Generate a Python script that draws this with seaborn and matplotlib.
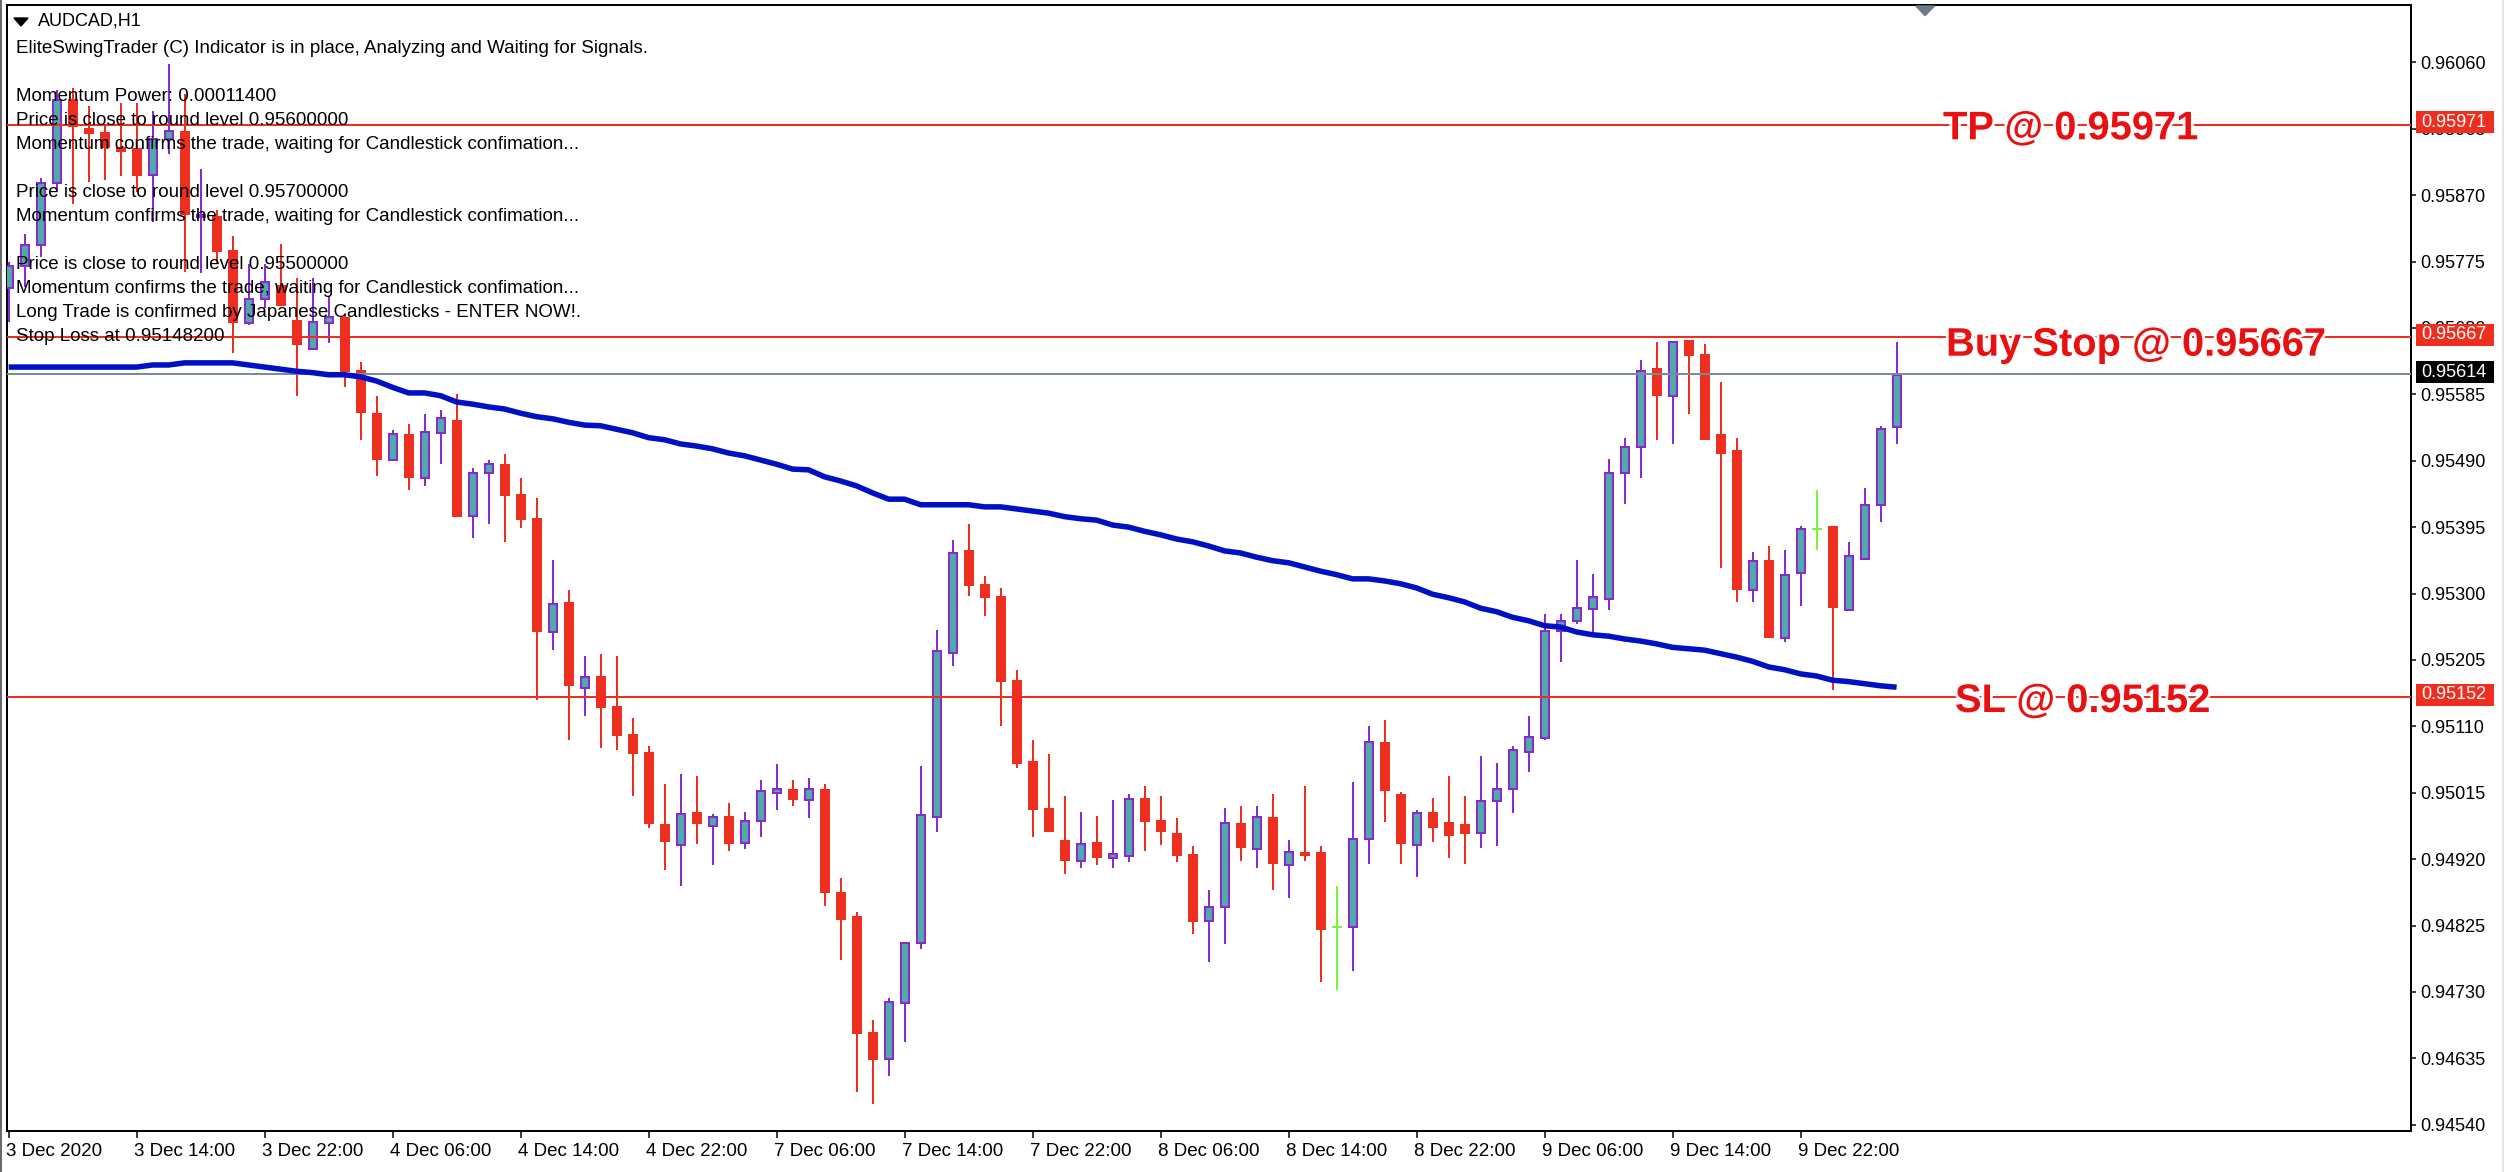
import numpy as np
import pandas as pd
import seaborn as sns
import matplotlib
matplotlib.use("Agg")
import matplotlib.pyplot as plt
import matplotlib.patheffects as pe
from matplotlib.patches import Polygon, Rectangle
from matplotlib.transforms import Affine2D, ScaledTranslation

# Prices are in 1e-5 units (0.95737 -> 95737)
opens = [95737,95768,95799,95888,96008,95966,95960,95939,95937,95899,95950,95962,95838,95840,95791,95687,95721,95742,95691,95650,
         95687,95696,95620,95559,95491,95528,95466,95529,95548,95411,95472,95485,95442,95408,95245,95288,95165,95182,95139,95099,
         95073,94970,94940,94988,94968,94982,94943,94974,95014,95021,95005,95021,94873,94839,94673,94634,94714,94800,94980,95215,
         95362,95314,95297,95176,95061,94993,94947,94917,94944,94922,94925,95007,94976,94958,94927,94831,94851,94972,94934,94981,
         94911,94930,94930,94823,94823,94949,95087,95013,94940,94988,94973,94970,94957,95003,95020,95074,95094,95247,95260,95278,
         95292,95472,95509,95622,95583,95663,95642,95528,95505,95305,95348,95237,95329,95393,95397,95277,95349,95426,95538]
highs = [95775,95814,95894,96020,96023,95997,95969,96002,96002,95991,96057,96014,95908,95849,95812,95772,95772,95800,95751,95751,
         95725,95698,95631,95583,95534,95543,95557,95563,95585,95479,95491,95500,95465,95437,95348,95305,95211,95214,95211,95122,
         95082,95028,95042,95039,94984,95001,94988,95033,95056,95033,95036,95028,94893,94845,94690,94721,94802,95053,95248,95377,
         95400,95325,95308,95191,95090,95071,95010,94988,94982,95005,95013,95025,95010,94979,94939,94876,94993,94996,94996,95013,
         94947,95025,94939,94882,95030,95110,95119,95016,94990,95007,95039,95011,95068,95057,95082,95125,95271,95271,95348,95328,
         95493,95522,95634,95660,95660,95663,95657,95602,95522,95359,95368,95363,95397,95448,95397,95374,95451,95540,95660]
lows = [95689,95739,95781,95878,95858,95889,95892,95898,95875,95832,95929,95760,95758,95772,95644,95684,95708,95711,95583,95650,
        95658,95595,95520,95468,95489,95448,95454,95485,95409,95379,95399,95374,95394,95148,95219,95090,95125,95079,95076,95010,
        94965,94905,94882,94942,94911,94931,94934,94951,94990,94996,94979,94853,94776,94587,94570,94610,94659,94791,94959,95196,
        95297,95268,95111,95050,94951,94959,94899,94907,94911,94907,94916,94931,94940,94916,94813,94773,94799,94917,94907,94876,
        94864,94917,94744,94733,94760,94913,94973,94913,94894,94945,94922,94913,94936,94939,94986,95045,95091,95202,95256,95244,
        95277,95428,95465,95520,95514,95557,95520,95336,95288,95288,95236,95231,95282,95363,95162,95277,95349,95403,95514]
closes = [95768,95799,95888,96006,95968,95958,95937,95932,95898,95951,95962,95842,95841,95789,95687,95721,95745,95711,95655,95688,
          95696,95617,95558,95491,95528,95466,95531,95551,95410,95473,95485,95440,95405,95245,95285,95168,95181,95136,95096,95070,
          94971,94945,94984,94971,94981,94942,94975,95018,95021,95005,95021,94871,94833,94670,94633,94715,94800,94983,95218,95358,
          95311,95294,95174,95056,94991,94959,94917,94941,94922,94927,95006,94973,94959,94925,94830,94852,94972,94936,94981,94913,
          94930,94925,94818,94823,94949,95087,95017,94942,94986,94965,94953,94956,95003,95020,95076,95095,95247,95261,95279,95295,
          95472,95510,95619,95583,95660,95640,95520,95500,95305,95347,95237,95327,95393,95393,95279,95353,95427,95536,95613]
ema = [95624,95624,95624,95624,95624,95624,95624,95624,95624,95627,95627,95630,95630,95630,95630,95627,95624,95621,95618,95616,
       95613,95613,95610,95604,95595,95587,95587,95583,95574,95571,95567,95564,95558,95553,95550,95545,95541,95540,95535,95530,
       95523,95520,95514,95511,95507,95501,95497,95491,95485,95478,95477,95467,95461,95454,95444,95435,95435,95427,95427,95427,
       95427,95424,95424,95421,95418,95415,95410,95407,95405,95398,95395,95389,95384,95378,95374,95368,95361,95358,95352,95347,
       95344,95338,95332,95327,95321,95321,95318,95314,95308,95299,95294,95288,95279,95274,95266,95261,95254,95252,95245,95241,
       95239,95235,95232,95228,95223,95221,95219,95214,95209,95203,95195,95191,95185,95182,95176,95174,95171,95168,95166]

x_labels = ["3 Dec 2020","3 Dec 14:00","3 Dec 22:00","4 Dec 06:00","4 Dec 14:00","4 Dec 22:00","7 Dec 06:00","7 Dec 14:00",
            "7 Dec 22:00","8 Dec 06:00","8 Dec 14:00","8 Dec 22:00","9 Dec 06:00","9 Dec 14:00","9 Dec 22:00"]
y_tick_values = [0.96060,0.95965,0.95870,0.95775,0.95680,0.95585,0.95490,0.95395,0.95300,0.95205,0.95110,0.95015,0.94920,
                 0.94825,0.94730,0.94635,0.94540]
levels = {"TP @ 0.95971":0.95971, "Buy Stop @ 0.95667":0.95667, "SL @ 0.95152":0.95152}
current_price = 0.95614
info_lines = [
    ("EliteSwingTrader (C) Indicator is in place, Analyzing and Waiting for Signals.", 48.3),
    ("Momentum Power: 0.00011400", 96.7),
    ("Price is close to round level 0.95600000", 120.3),
    ("Momentum confirms the trade, waiting for Candlestick confimation...", 144.3),
    ("Price is close to round level 0.95700000", 192.3),
    ("Momentum confirms the trade, waiting for Candlestick confimation...", 216.7),
    ("Price is close to round level 0.95500000", 264.3),
    ("Momentum confirms the trade, waiting for Candlestick confimation...", 288.3),
    ("Long Trade is confirmed by Japanese Candlesticks - ENTER NOW!.", 312.3),
    ("Stop Loss at 0.95148200", 336.3),
]

df = pd.DataFrame({"open":opens,"high":highs,"low":lows,"close":closes,"ema":ema})/1e5
df["bar"] = np.arange(len(df))

RED, PURPLE, TEAL, GREEN, BLUE, GREY = "#EE2F20", "#8A2BD2", "#4FA9A8", "#78F53C", "#0011C4", "#7C8B99"
W, H = 2504, 1172
sns.set_theme(style="white")
plt.rcParams["font.family"] = ["Liberation Sans", "DejaVu Sans"]
fig = plt.figure(figsize=(W/100, H/100), dpi=100, facecolor="white")
L, R, T, B = 6.7, 2410.7, 5.0, 1130.7
ax = fig.add_axes([L/W, 1-B/H, (R-L)/W, (B-T)/H])
px = Affine2D().scale(1/W, -1/H).translate(0, 1) + fig.transFigure
PT = 0.72  # points per pixel

dn = df[df.close < df.open]
up = df[df.close > df.open]
dj = df[df.close == df.open]
ax.vlines(dn.bar, dn.low, dn.high, color=RED, lw=2*PT, zorder=2)
ax.vlines(up.bar, up.low, up.high, color=PURPLE, lw=2*PT, zorder=2)
ax.vlines(dj.bar, dj.low, dj.high, color=GREEN, lw=2*PT, zorder=2)
ax.bar(dn.bar, dn.open-dn.close, bottom=dn.close, width=0.62, color=RED, lw=0, zorder=3)
ax.bar(up.bar, up.close-up.open, bottom=up.open, width=0.5, facecolor=TEAL, edgecolor=PURPLE, lw=2*PT, zorder=3)
ax.hlines(dj.close, dj.bar-0.31, dj.bar+0.31, color=GREEN, lw=2*PT, zorder=3)

for value in levels.values():
    ax.axhline(value, color=RED, lw=2*PT, zorder=4)
ax.axhline(current_price, color=GREY, lw=2*PT, zorder=4)

sns.lineplot(data=df, x="bar", y="ema", ax=ax, color=BLUE, lw=5.5*PT, zorder=5, errorbar=None, solid_capstyle="butt")

ax.set_xlim((L-8.6)/16, (R-8.6)/16)
ax.set_ylim(0.945315, 0.96142)
ax.set_xlabel(""); ax.set_ylabel("")
for s in ax.spines.values():
    s.set_linewidth(2*PT); s.set_color("black")

ax.set_xticks(np.arange(len(x_labels))*8)
ax.set_xticklabels(x_labels, ha="left", fontsize=13.5, color="black")
ax.tick_params(axis="x", bottom=True, length=7*PT, width=1.5*PT, pad=5*PT, color="black")
shift = ScaledTranslation(-3/100, 0, fig.dpi_scale_trans)
for lab in ax.get_xticklabels():
    lab.set_transform(lab.get_transform() + shift)
ax.yaxis.tick_right()
ax.set_yticks(y_tick_values)
ax.set_yticklabels([f"{v:.5f}" for v in y_tick_values], fontsize=13, color="black")
ax.tick_params(axis="y", right=True, left=False, length=5*PT, width=1.5*PT, pad=5*PT, color="black")

# Header and indicator comments
ax.text(38, 21.2, "AUDCAD,H1", transform=px, fontsize=13, va="center", ha="left", color="black", zorder=8)
ax.add_patch(Polygon([(14,18),(28,18),(21,26)], closed=True, transform=px, color="black", zorder=8, clip_on=False))
ax.add_patch(Polygon([(1916,6),(1934.5,6),(1925,15.7)], closed=True, transform=px, color="#6D7B8D", zorder=8, clip_on=False))
for text, y in info_lines:
    ax.text(15.6, y, text, transform=px, fontsize=13.5, va="center", ha="left", color="black", zorder=8)

# Big level labels: white halo leaves the level line only in the gaps between glyphs
for (label, value), (x0, base) in zip(levels.items(), [(1943,139.3),(1946,355.7),(1955,712)]):
    ax.text(x0, base, label, transform=px, fontsize=28.7, fontweight="bold", color="#E81010", va="baseline", ha="left", zorder=7,
            path_effects=[pe.withStroke(linewidth=4, foreground="white")])

# Price flags on the right scale
for value, fc in [(0.95971, RED), (0.95667, RED), (0.95152, RED), (current_price, "black")]:
    yc = 96149.1
    ypx = (yc - value*1e5)/1.4306 - 2
    ax.add_patch(Rectangle((2415.7, ypx-11), 77.8, 22, transform=px, facecolor=fc, edgecolor="none", zorder=9, clip_on=False))
    ax.text(2421, ypx, f"{value:.5f}", transform=px, fontsize=13, color="white", va="center", ha="left", zorder=10, clip_on=False)

# Window borders
fig.add_artist(Rectangle((0, 0), 2, H, transform=px, facecolor="#696969", edgecolor="none"))
fig.add_artist(Rectangle((2502, 0), 2, H, transform=px, facecolor="#E6E6E6", edgecolor="none"))

fig.savefig("out.png", dpi=100, facecolor="white")
